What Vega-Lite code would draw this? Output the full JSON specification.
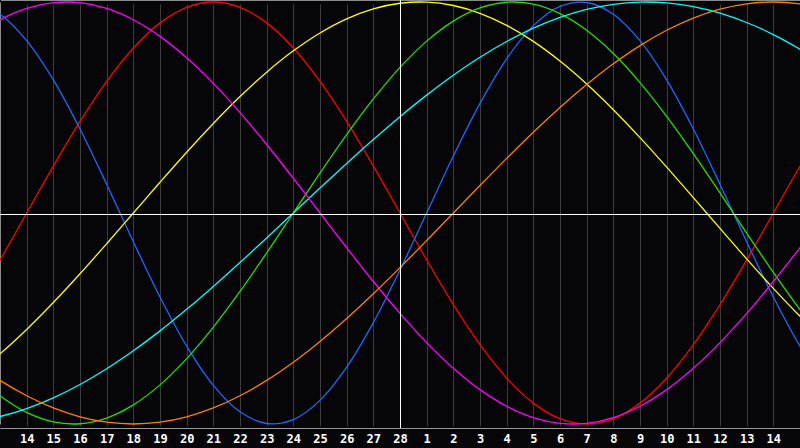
{
"$schema": "https://vega.github.io/schema/vega-lite/v6.json",
"width": 800,
"height": 428,
"autosize": {"type": "none"},
"padding": {"left": 0, "top": 0, "right": 0, "bottom": 20},
"background": "#060508",
"config": {"view": {"stroke": null}},
"resolve": {"axis": {"x": "independent", "y": "independent"}, "scale": {"x": "independent", "y": "independent"}},
"layer": [
{
"data": {"values": [
{"s":"r","k":-1,"v":-0.4339},{"s":"r","k":0,"v":-0.2225},{"s":"r","k":1,"v":0},{"s":"r","k":2,"v":0.2225},{"s":"r","k":3,"v":0.4339},{"s":"r","k":4,"v":0.6235},{"s":"r","k":5,"v":0.7818},{"s":"r","k":6,"v":0.9010},{"s":"r","k":7,"v":0.9749},{"s":"r","k":8,"v":1},{"s":"r","k":9,"v":0.9749},{"s":"r","k":10,"v":0.9010},{"s":"r","k":11,"v":0.7818},{"s":"r","k":12,"v":0.6235},{"s":"r","k":13,"v":0.4339},{"s":"r","k":14,"v":0.2225},{"s":"r","k":15,"v":0},{"s":"r","k":16,"v":-0.2225},{"s":"r","k":17,"v":-0.4339},{"s":"r","k":18,"v":-0.6235},{"s":"r","k":19,"v":-0.7818},{"s":"r","k":20,"v":-0.9010},{"s":"r","k":21,"v":-0.9749},{"s":"r","k":22,"v":-1},{"s":"r","k":23,"v":-0.9749},{"s":"r","k":24,"v":-0.9010},{"s":"r","k":25,"v":-0.7818},{"s":"r","k":26,"v":-0.6235},{"s":"r","k":27,"v":-0.4339},{"s":"r","k":28,"v":-0.2225},{"s":"r","k":29,"v":0},{"s":"r","k":30,"v":0.2225},{"s":"r","k":31,"v":0.4339},
{"s":"b","k":-1,"v":0.9977},{"s":"b","k":0,"v":0.9423},{"s":"b","k":1,"v":0.8170},{"s":"b","k":2,"v":0.6311},{"s":"b","k":3,"v":0.3984},{"s":"b","k":4,"v":0.1362},{"s":"b","k":5,"v":-0.1362},{"s":"b","k":6,"v":-0.3984},{"s":"b","k":7,"v":-0.6311},{"s":"b","k":8,"v":-0.8170},{"s":"b","k":9,"v":-0.9423},{"s":"b","k":10,"v":-0.9977},{"s":"b","k":11,"v":-0.9791},{"s":"b","k":12,"v":-0.8879},{"s":"b","k":13,"v":-0.7308},{"s":"b","k":14,"v":-0.5196},{"s":"b","k":15,"v":-0.2698},{"s":"b","k":16,"v":0},{"s":"b","k":17,"v":0.2698},{"s":"b","k":18,"v":0.5196},{"s":"b","k":19,"v":0.7308},{"s":"b","k":20,"v":0.8879},{"s":"b","k":21,"v":0.9791},{"s":"b","k":22,"v":0.9977},{"s":"b","k":23,"v":0.9423},{"s":"b","k":24,"v":0.8170},{"s":"b","k":25,"v":0.6311},{"s":"b","k":26,"v":0.3984},{"s":"b","k":27,"v":0.1362},{"s":"b","k":28,"v":-0.1362},{"s":"b","k":29,"v":-0.3984},{"s":"b","k":30,"v":-0.6311},{"s":"b","k":31,"v":-0.8170},
{"s":"y","k":-1,"v":-0.7685},{"s":"y","k":0,"v":-0.6673},{"s":"y","k":1,"v":-0.5518},{"s":"y","k":2,"v":-0.4245},{"s":"y","k":3,"v":-0.2881},{"s":"y","k":4,"v":-0.1456},{"s":"y","k":5,"v":0},{"s":"y","k":6,"v":0.1456},{"s":"y","k":7,"v":0.2881},{"s":"y","k":8,"v":0.4245},{"s":"y","k":9,"v":0.5518},{"s":"y","k":10,"v":0.6673},{"s":"y","k":11,"v":0.7685},{"s":"y","k":12,"v":0.8534},{"s":"y","k":13,"v":0.9203},{"s":"y","k":14,"v":0.9675},{"s":"y","k":15,"v":0.9940},{"s":"y","k":16,"v":0.9993},{"s":"y","k":17,"v":0.9834},{"s":"y","k":18,"v":0.9464},{"s":"y","k":19,"v":0.8893},{"s":"y","k":20,"v":0.8133},{"s":"y","k":21,"v":0.7199},{"s":"y","k":22,"v":0.6112},{"s":"y","k":23,"v":0.4894},{"s":"y","k":24,"v":0.3572},{"s":"y","k":25,"v":0.2174},{"s":"y","k":26,"v":0.0730},{"s":"y","k":27,"v":-0.0730},{"s":"y","k":28,"v":-0.2174},{"s":"y","k":29,"v":-0.3572},{"s":"y","k":30,"v":-0.4894},{"s":"y","k":31,"v":-0.6112},
{"s":"g","k":-1,"v":-0.7557},{"s":"g","k":0,"v":-0.8660},{"s":"g","k":1,"v":-0.9450},{"s":"g","k":2,"v":-0.9898},{"s":"g","k":3,"v":-0.9989},{"s":"g","k":4,"v":-0.9718},{"s":"g","k":5,"v":-0.9096},{"s":"g","k":6,"v":-0.8146},{"s":"g","k":7,"v":-0.6901},{"s":"g","k":8,"v":-0.5406},{"s":"g","k":9,"v":-0.3717},{"s":"g","k":10,"v":-0.1893},{"s":"g","k":11,"v":0},{"s":"g","k":12,"v":0.1893},{"s":"g","k":13,"v":0.3717},{"s":"g","k":14,"v":0.5406},{"s":"g","k":15,"v":0.6901},{"s":"g","k":16,"v":0.8146},{"s":"g","k":17,"v":0.9096},{"s":"g","k":18,"v":0.9718},{"s":"g","k":19,"v":0.9989},{"s":"g","k":20,"v":0.9898},{"s":"g","k":21,"v":0.9450},{"s":"g","k":22,"v":0.8660},{"s":"g","k":23,"v":0.7557},{"s":"g","k":24,"v":0.6182},{"s":"g","k":25,"v":0.4582},{"s":"g","k":26,"v":0.2817},{"s":"g","k":27,"v":0.0951},{"s":"g","k":28,"v":-0.0951},{"s":"g","k":29,"v":-0.2817},{"s":"g","k":30,"v":-0.4582},{"s":"g","k":31,"v":-0.6182},
{"s":"c","k":-1,"v":-0.9890},{"s":"c","k":0,"v":-0.9646},{"s":"c","k":1,"v":-0.9267},{"s":"c","k":2,"v":-0.8758},{"s":"c","k":3,"v":-0.8126},{"s":"c","k":4,"v":-0.7380},{"s":"c","k":5,"v":-0.6529},{"s":"c","k":6,"v":-0.5587},{"s":"c","k":7,"v":-0.4566},{"s":"c","k":8,"v":-0.3482},{"s":"c","k":9,"v":-0.2349},{"s":"c","k":10,"v":-0.1183},{"s":"c","k":11,"v":0},{"s":"c","k":12,"v":0.1183},{"s":"c","k":13,"v":0.2349},{"s":"c","k":14,"v":0.3482},{"s":"c","k":15,"v":0.4566},{"s":"c","k":16,"v":0.5587},{"s":"c","k":17,"v":0.6529},{"s":"c","k":18,"v":0.7380},{"s":"c","k":19,"v":0.8126},{"s":"c","k":20,"v":0.8758},{"s":"c","k":21,"v":0.9267},{"s":"c","k":22,"v":0.9646},{"s":"c","k":23,"v":0.9890},{"s":"c","k":24,"v":0.9996},{"s":"c","k":25,"v":0.9960},{"s":"c","k":26,"v":0.9786},{"s":"c","k":27,"v":0.9473},{"s":"c","k":28,"v":0.9028},{"s":"c","k":29,"v":0.8456},{"s":"c","k":30,"v":0.7763},{"s":"c","k":31,"v":0.6966},
{"s":"m","k":-1,"v":0.8372},{"s":"m","k":0,"v":0.9158},{"s":"m","k":1,"v":0.9694},{"s":"m","k":2,"v":0.9966},{"s":"m","k":3,"v":0.9966},{"s":"m","k":4,"v":0.9694},{"s":"m","k":5,"v":0.9158},{"s":"m","k":6,"v":0.8372},{"s":"m","k":7,"v":0.7357},{"s":"m","k":8,"v":0.6142},{"s":"m","k":9,"v":0.4759},{"s":"m","k":10,"v":0.3247},{"s":"m","k":11,"v":0.1646},{"s":"m","k":12,"v":0},{"s":"m","k":13,"v":-0.1646},{"s":"m","k":14,"v":-0.3247},{"s":"m","k":15,"v":-0.4759},{"s":"m","k":16,"v":-0.6142},{"s":"m","k":17,"v":-0.7357},{"s":"m","k":18,"v":-0.8372},{"s":"m","k":19,"v":-0.9158},{"s":"m","k":20,"v":-0.9694},{"s":"m","k":21,"v":-0.9966},{"s":"m","k":22,"v":-0.9966},{"s":"m","k":23,"v":-0.9694},{"s":"m","k":24,"v":-0.9158},{"s":"m","k":25,"v":-0.8372},{"s":"m","k":26,"v":-0.7357},{"s":"m","k":27,"v":-0.6142},{"s":"m","k":28,"v":-0.4759},{"s":"m","k":29,"v":-0.3247},{"s":"m","k":30,"v":-0.1646},{"s":"m","k":31,"v":0},
{"s":"o","k":-1,"v":-0.7071},{"s":"o","k":0,"v":-0.7934},{"s":"o","k":1,"v":-0.8660},{"s":"o","k":2,"v":-0.9239},{"s":"o","k":3,"v":-0.9659},{"s":"o","k":4,"v":-0.9914},{"s":"o","k":5,"v":-1},{"s":"o","k":6,"v":-0.9914},{"s":"o","k":7,"v":-0.9659},{"s":"o","k":8,"v":-0.9239},{"s":"o","k":9,"v":-0.8660},{"s":"o","k":10,"v":-0.7934},{"s":"o","k":11,"v":-0.7071},{"s":"o","k":12,"v":-0.6088},{"s":"o","k":13,"v":-0.5},{"s":"o","k":14,"v":-0.3827},{"s":"o","k":15,"v":-0.2588},{"s":"o","k":16,"v":-0.1305},{"s":"o","k":17,"v":0},{"s":"o","k":18,"v":0.1305},{"s":"o","k":19,"v":0.2588},{"s":"o","k":20,"v":0.3827},{"s":"o","k":21,"v":0.5},{"s":"o","k":22,"v":0.6088},{"s":"o","k":23,"v":0.7071},{"s":"o","k":24,"v":0.7934},{"s":"o","k":25,"v":0.8660},{"s":"o","k":26,"v":0.9239},{"s":"o","k":27,"v":0.9659},{"s":"o","k":28,"v":0.9914},{"s":"o","k":29,"v":1},{"s":"o","k":30,"v":0.9914},{"s":"o","k":31,"v":0.9659}
]},
"mark": {"type": "line", "interpolate": "catmull-rom", "clip": true, "strokeWidth": 1.3},
"encoding": {
"x": {"field": "k", "type": "quantitative",
"scale": {"domain": [0, 30], "nice": false, "zero": false},
"axis": {"values": [1,2,3,4,5,6,7,8,9,10,11,12,13,14,15,16,17,18,19,20,21,22,23,24,25,26,27,28,29],
"labelExpr": "datum.value <= 15 ? datum.value + 13 : datum.value - 15",
"grid": true, "gridColor": "#3c3c3c", "gridWidth": 1, "gridOpacity": 1,
"ticks": false, "tickSize": 0, "domain": true, "domainColor": "#9a9a9a", "domainWidth": 1,
"labelColor": "#ffffff", "labelFont": "DejaVu Sans Mono", "labelFontSize": 12, "labelFontWeight": "bold",
"labelPadding": 5, "labelFlush": false, "labelOverlap": false, "title": null}},
"y": {"field": "v", "type": "quantitative",
"scale": {"domain": [-1, 1], "range": [424, 2], "nice": false, "zero": false},
"axis": {"orient": "left", "domain": true, "domainColor": "#8a8a8a", "labels": false, "ticks": false, "grid": false, "title": null}},
"color": {"field": "s", "type": "nominal",
"scale": {"domain": ["r","b","y","g","c","m","o"], "range": ["#ff0000","#1a6aff","#ffff00","#22e000","#00ffff","#ff00ff","#ff8000"]},
"legend": null}
}
},
{
"data": {"values": [{}]},
"mark": {"type": "rule", "color": "#ffffff", "strokeWidth": 1},
"encoding": {"x": {"datum": 15, "type": "quantitative",
"scale": {"domain": [0, 30], "range": [0.5, 800.5], "nice": false, "zero": false},
"axis": {"orient": "top", "domain": true, "domainColor": "#8a8a8a", "labels": false, "ticks": false, "grid": false, "title": null}}}
},
{
"data": {"values": [{}]},
"mark": {"type": "rule", "color": "#ffffff", "strokeWidth": 1},
"encoding": {"y": {"datum": 0, "type": "quantitative",
"scale": {"domain": [-1, 1], "range": [428.5, 0.5], "nice": false, "zero": false},
"axis": null}}
}
]
}
